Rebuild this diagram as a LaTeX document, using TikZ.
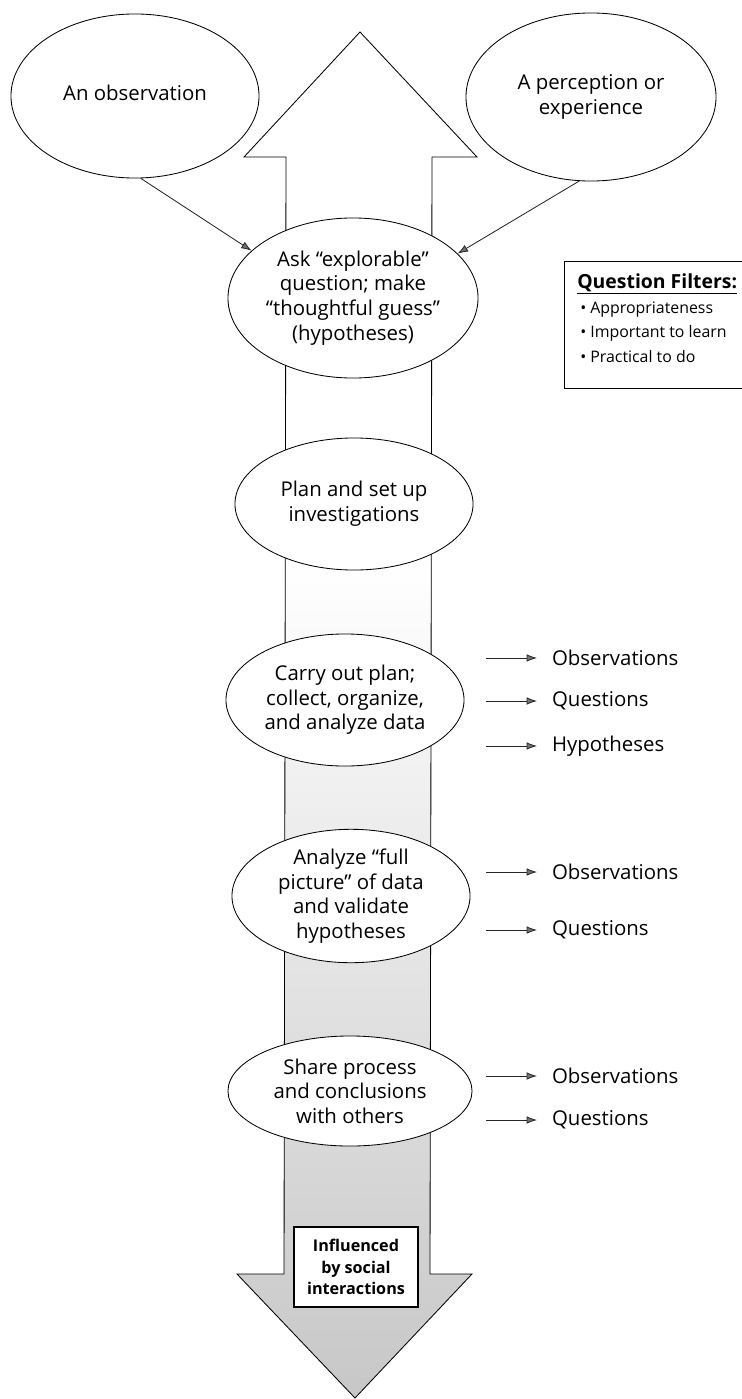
\documentclass[tikz,border=0pt]{standalone}
\usepackage{fontspec}
\setmainfont{Open Sans}
\usetikzlibrary{arrows.meta, shapes.geometric}

\begin{document}
\begin{tikzpicture}[x=0.025cm, y=-0.025cm,
    stage/.style={draw, ellipse, fill=white, inner sep=0pt, align=center, line width=0.6pt,
                  font=\fontsize{14.5}{17.5}\selectfont},
    flow/.style={-{Latex[length=2.6mm, width=1.9mm, fill=black!55]}, line width=0.6pt, draw=black!85},
    outlabel/.style={anchor=west, inner sep=2pt, font=\fontsize{14.5}{16}\selectfont},
    filteritem/.style={anchor=west, inner sep=0pt, font=\fontsize{11.3}{13}\selectfont}]
\useasboundingbox (0,0) rectangle (742,1399);

% two-headed arrow, stippled towards the bottom
\begin{scope}
  \clip (360,32) -- (477,157) -- (432,157) -- (430,1274) -- (472,1274) -- (355,1398)
        -- (237,1274) -- (284,1274) -- (286,157) -- (244,157) -- cycle;
  \shade[top color=white, bottom color=black!22] (230,560) rectangle (480,1400);
\end{scope}
\draw[line width=0.6pt] (360,32) -- (477,157) -- (432,157) -- (430,1274) -- (472,1274) -- (355,1398)
        -- (237,1274) -- (284,1274) -- (286,157) -- (244,157) -- cycle;

% sources
\node[stage, minimum width=6.2cm, minimum height=4.1cm] (obs) at (135,96)
    {\raisebox{0.18cm}{An observation}};
\node[stage, minimum width=6.25cm, minimum height=4.2cm] (perc) at (591,97) {A perception or\\experience};

% steps
\node[stage, minimum width=6.25cm, minimum height=4cm] (ask) at (353,298)
    {Ask “explorable”\\question; make\\“thoughtful guess”\\(hypotheses)};
\node[stage, minimum width=5.95cm, minimum height=3.3cm] (plan) at (354,504)
    {Plan and set up\\investigations};
\node[stage, minimum width=5.95cm, minimum height=3.3cm] (carry) at (345,700)
    {Carry out plan;\\collect, organize,\\and analyze data};
\node[stage, minimum width=5.95cm, minimum height=3.3cm] (analyze) at (351,896)
    {Analyze “full\\picture” of data\\and validate\\hypotheses};
\node[stage, minimum width=6.1cm, minimum height=2.75cm] (share) at (350,1091)
    {Share process\\and conclusions\\with others};

\draw[flow] (obs.-86) -- (ask.155);
\draw[flow] (perc.-98) -- (ask.23);

% outcomes
\foreach \lab/\yy in {Observations/658, Questions/701, Hypotheses/746,
                      Observations/872, Questions/930,
                      Observations/1076, Questions/1120} {
  \coordinate (from-\yy) at (486,\yy);
  \node[outlabel] (out-\yy) at (549,\yy) {\lab};
  \draw[flow, shorten >=3mm] (from-\yy) -- (out-\yy);
}

% filters box
\draw[line width=0.6pt] (742,261) -- (564,261) -- (564,388) -- (742,388);
\node[anchor=west, inner sep=0pt, font=\bfseries\fontsize{13.8}{15}\selectfont] (ftitle) at (577,284)
    {\underline{Question Filters:}};
\foreach \txt/\yy in {Appropriateness/310, Important to learn/333, Practical to do/357}
  \node[filteritem] (f-\yy) at (580,\yy) {\textbullet\ \txt};

\node[draw, fill=white, line width=0.9pt, minimum width=3.1cm, minimum height=2cm, align=center,
      font=\bfseries\fontsize{11.5}{15.5}\selectfont] (social) at (356,1267)
    {Influenced\\by social\\interactions};
\end{tikzpicture}
\end{document}
